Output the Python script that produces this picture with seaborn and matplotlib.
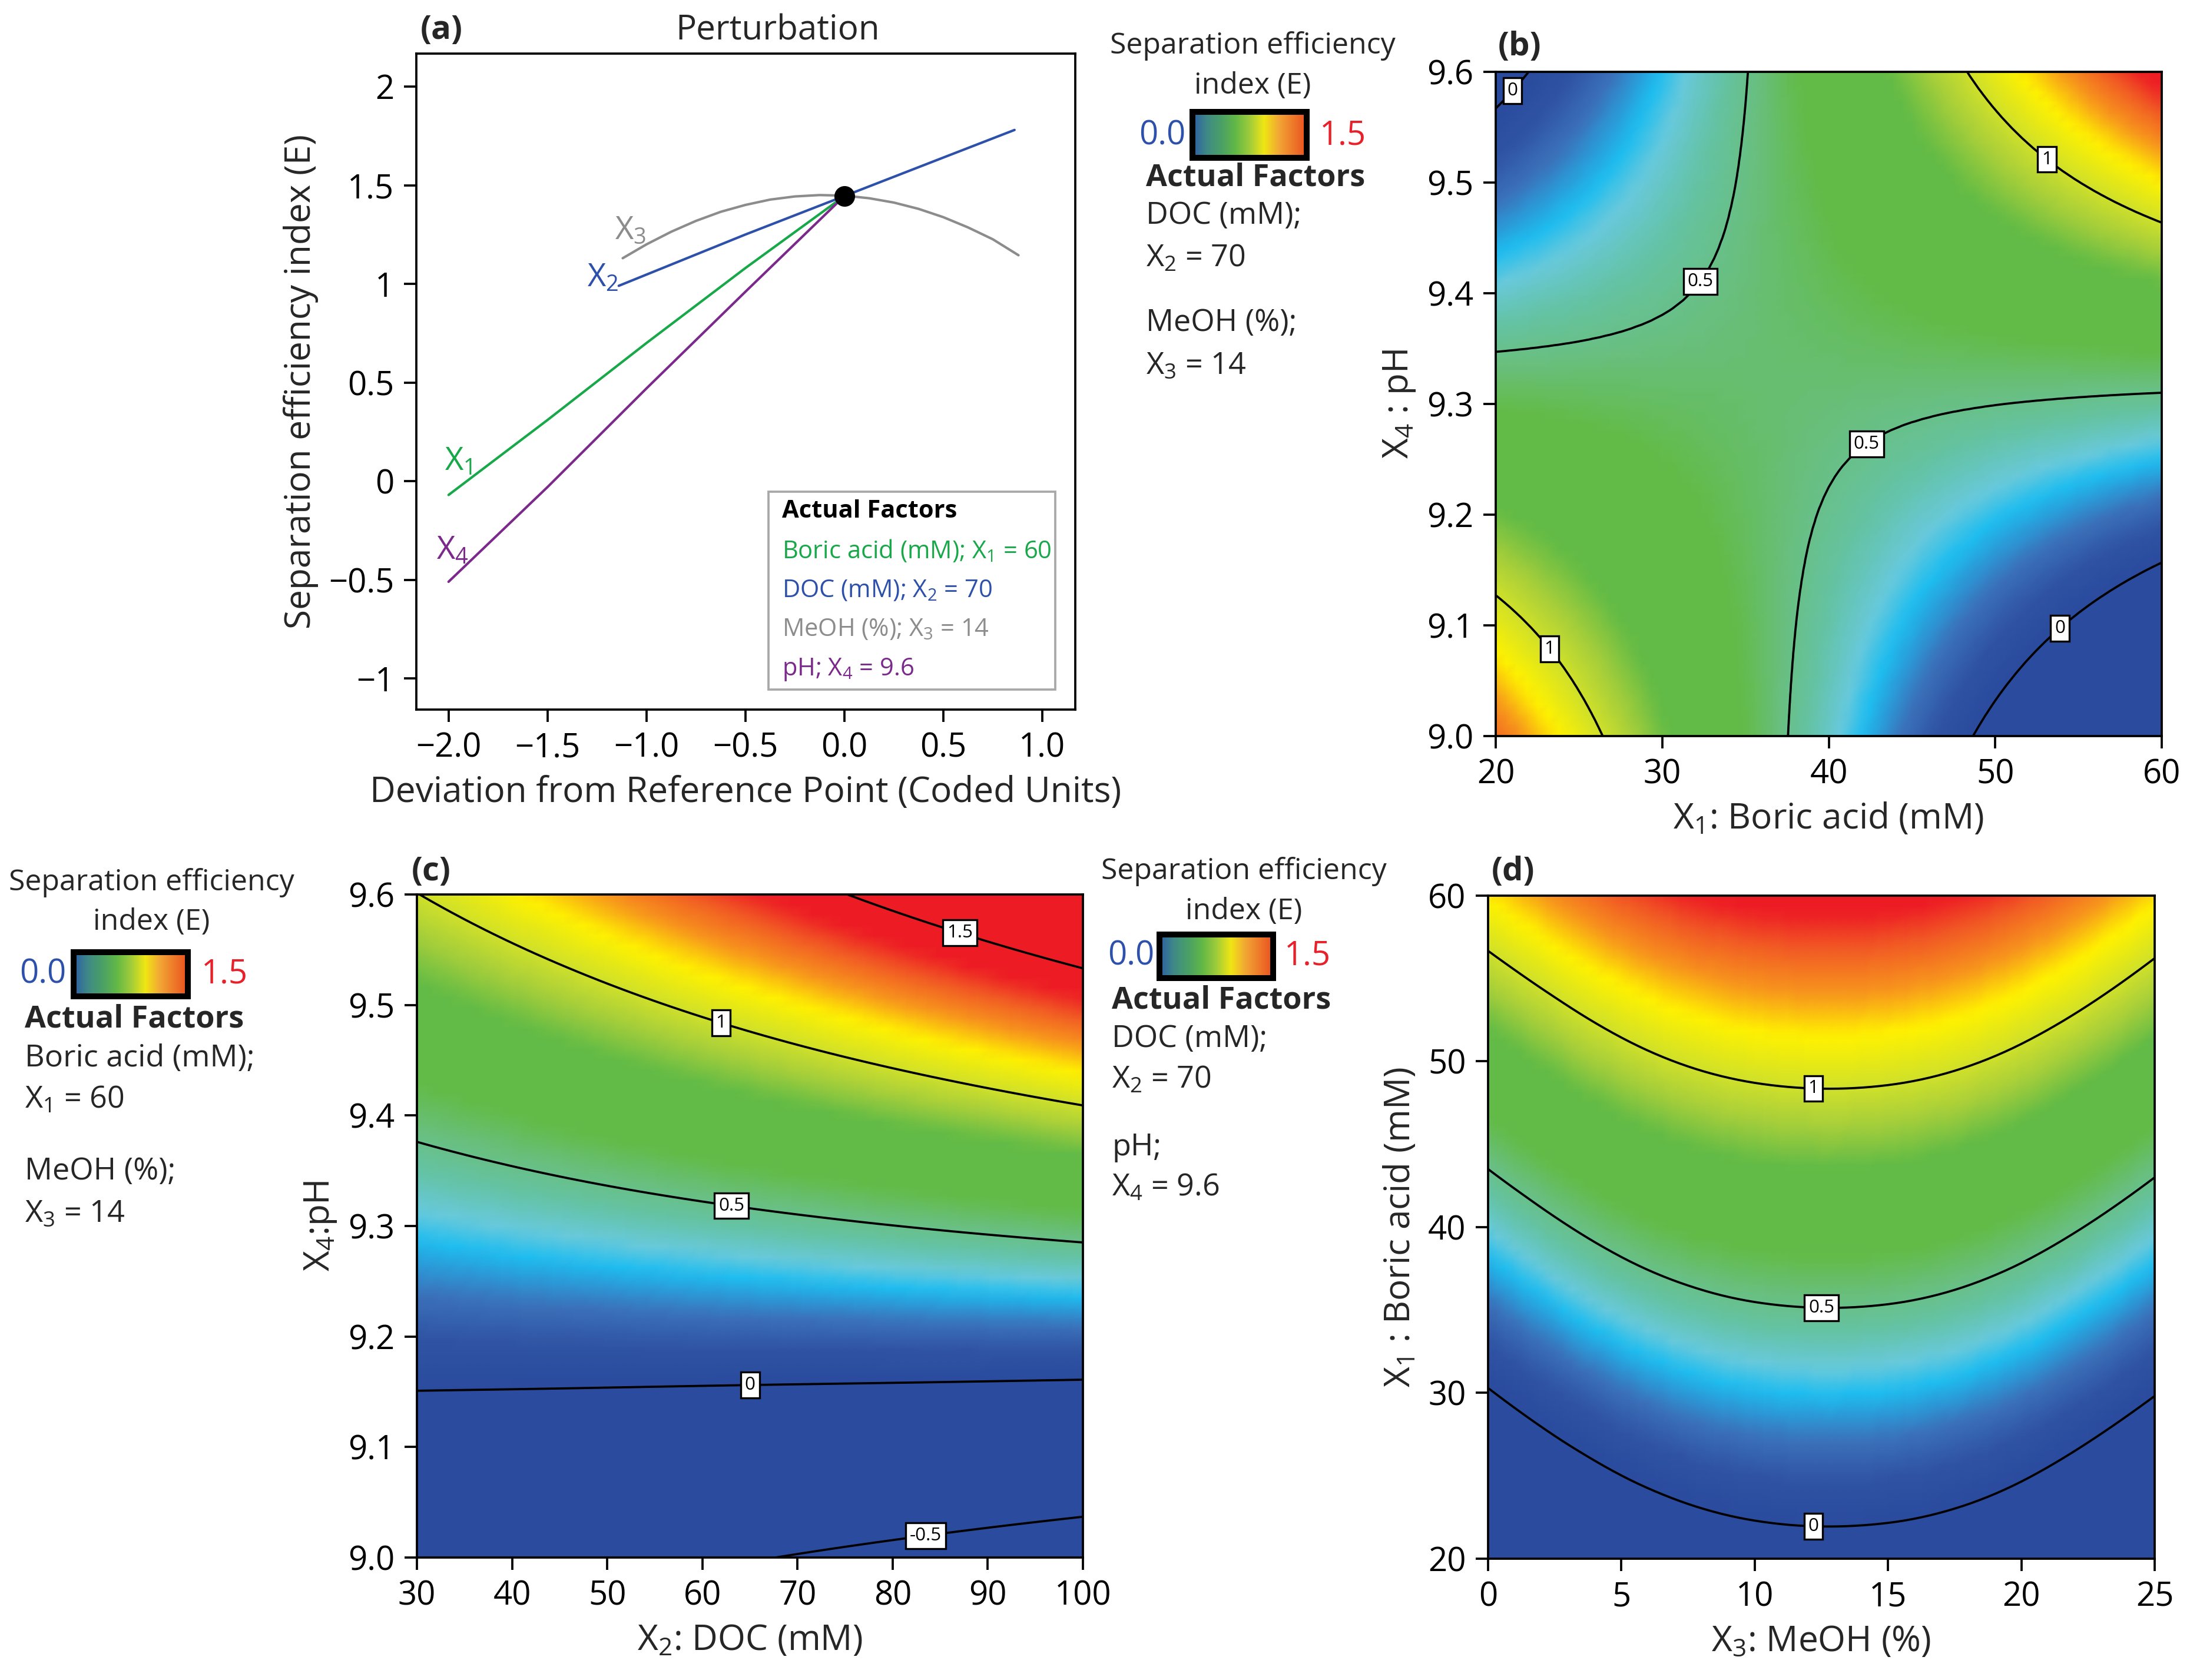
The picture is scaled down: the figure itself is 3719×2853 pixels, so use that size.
import numpy as np
import pandas as pd
import matplotlib
matplotlib.use("Agg")
import matplotlib.pyplot as plt
import matplotlib.tri as mtri
from matplotlib.colors import LinearSegmentedColormap
from matplotlib.patches import Rectangle
import seaborn as sns

# ---------------- data ----------------
# (a) perturbation traces: deviation (coded units) vs E
dev_x1 = [-2.0, -1.5, -1.0, -0.5, 0.0]
e_x1 = [-0.07, 0.31, 0.70, 1.08, 1.445]
dev_x2 = [-1.14, -0.5, 0.0, 0.5, 0.86]
e_x2 = [0.99, 1.25, 1.445, 1.64, 1.78]
dev_x3 = [-1.12, -1.0, -0.875, -0.75, -0.625, -0.5, -0.375, -0.25, -0.125,
          0.0, 0.125, 0.25, 0.375, 0.5, 0.625, 0.75, 0.88]
e_x3 = [1.13, 1.20, 1.264, 1.319, 1.365, 1.40, 1.427, 1.443, 1.45,
        1.447, 1.434, 1.412, 1.38, 1.338, 1.286, 1.226, 1.145]
dev_x4 = [-2.0, -1.5, -1.0, -0.5, 0.0]
e_x4 = [-0.51, -0.03, 0.47, 0.96, 1.445]
ref_dev = [0.0]
ref_e = [1.445]
a_xticks = [-2.0, -1.5, -1.0, -0.5, 0.0, 0.5, 1.0]
a_yticks = [-1.0, -0.5, 0.0, 0.5, 1.0, 1.5, 2.0]

# (b) E over boric acid (cols) x pH (rows), DOC = 70, MeOH = 14
b_boric = [20, 30, 40, 50, 60]
b_ph = [9.0, 9.15, 9.3, 9.45, 9.6]
b_e = [[1.289, 0.839, 0.390, -0.060, -0.510],
       [0.948, 0.706, 0.463, 0.221, -0.022],
       [0.607, 0.572, 0.537, 0.502, 0.467],
       [0.266, 0.438, 0.610, 0.783, 0.955],
       [-0.075, 0.305, 0.684, 1.064, 1.443]]

# (c) E over DOC (cols) x pH (rows), boric acid = 60, MeOH = 14
c_doc = [30, 47.5, 65, 82.5, 100]
c_ph = [9.0, 9.15, 9.3, 9.45, 9.6]
c_e = [[-0.335, -0.410, -0.488, -0.567, -0.649],
       [-0.002, -0.009, -0.019, -0.030, -0.044],
       [0.331, 0.392, 0.450, 0.506, 0.560],
       [0.664, 0.792, 0.919, 1.043, 1.165],
       [0.997, 1.193, 1.388, 1.579, 1.769]]

# (d) E over MeOH (cols) x boric acid (rows), DOC = 70, pH = 9.6
d_meoh = [0, 5, 10, 15, 20, 25]
d_boric = [20, 30, 40, 50, 60]
d_e = [[-0.390, -0.190, -0.087, -0.082, -0.176, -0.372],
       [-0.011, 0.189, 0.292, 0.297, 0.203, 0.007],
       [0.368, 0.568, 0.671, 0.676, 0.582, 0.386],
       [0.746, 0.946, 1.049, 1.054, 0.960, 0.764],
       [1.125, 1.325, 1.428, 1.433, 1.339, 1.143]]

# ---------------- style ----------------
sns.set_theme(style="ticks", rc={"axes.edgecolor": "black", "xtick.color": "black",
                                 "ytick.color": "black", "axes.linewidth": 0.9})
plt.rcParams["font.family"] = ["Open Sans", "DejaVu Sans"]
plt.rcParams["mathtext.default"] = "regular"
plt.rcParams["axes.unicode_minus"] = True
plt.rcParams["contour.negative_linestyle"] = "solid"

factor_colors = {"X1": "#18a84a", "X2": "#2d50aa", "X3": "#8c8c8c", "X4": "#7b2a8c"}

surf_stops = [0.0, 0.10, 0.19, 0.30, 0.36, 0.44, 0.52, 0.62, 0.82, 0.92,
              1.00, 1.12, 1.22, 1.32, 1.40, 1.50]
surf_cols = ["#2a4b9e", "#2f53a2", "#3b70b9", "#1ebdf0", "#68c9dc", "#64c3a6",
             "#69bf80", "#62bb46", "#62bb46", "#a8cf3a", "#cfe02b", "#fff200",
             "#f7941d", "#f15a24", "#ed1c24", "#ed1c24"]
surf_cmap = LinearSegmentedColormap.from_list(
    "sei", list(zip(np.array(surf_stops) / 1.5, surf_cols)))
bar_cmap = LinearSegmentedColormap.from_list(
    "bar", ["#2c5ea6", "#3f8a86", "#4aa066", "#62b846", "#a0cc3a", "#f0e614",
            "#f2a834", "#ee7a2a", "#e94e1f"])

TICK = 13.5
LAB = 14.5
SIDE = 12.5

fig = plt.figure(figsize=(3719 / 300, 2853 / 300), dpi=300)


def style_axes(ax):
    for s in ax.spines.values():
        s.set_visible(True)
        s.set_linewidth(0.9)
        s.set_color("black")
    ax.tick_params(direction="out", length=5, width=0.9, labelsize=TICK,
                   top=False, right=False, pad=4)


def draw_surface(ax, xs, ys, zs, levels, label_pos):
    ni, nj = len(xs), len(ys)
    ii, jj = np.meshgrid(np.arange(ni, dtype=float), np.arange(nj, dtype=float))
    tris = []
    for j in range(nj - 1):
        for i in range(ni - 1):
            k = j * ni + i
            tris.append([k, k + 1, k + ni + 1])
            tris.append([k, k + ni + 1, k + ni])
    tri = mtri.Triangulation(ii.ravel(), jj.ravel(), np.array(tris))
    tri_f, z_f = mtri.UniformTriRefiner(tri).refine_field(
        np.asarray(zs, dtype=float).ravel(), subdiv=4)
    fx = np.interp(tri_f.x, np.arange(ni), xs)
    fy = np.interp(tri_f.y, np.arange(nj), ys)
    tri_xy = mtri.Triangulation(fx, fy, tri_f.triangles)
    ax.tripcolor(tri_xy, z_f, shading="gouraud", cmap=surf_cmap, vmin=0, vmax=1.5,
                 rasterized=True)
    cs = ax.tricontour(tri_xy, z_f, levels=levels, colors="black", linewidths=0.9,
                       linestyles="solid")
    texts = ax.clabel(cs, inline=False, fontsize=7.5, fmt=lambda v: f"{v:g}",
                      manual=label_pos)
    for t in texts:
        t.set_rotation(0)
        t.set_bbox(dict(boxstyle="square,pad=0.22", facecolor="white",
                        edgecolor="black", linewidth=0.8))
        t.set_zorder(5)
    ax.set_xlim(xs[0], xs[-1])
    ax.set_ylim(ys[0], ys[-1])
    style_axes(ax)


def side_legend(cx_title, y_title1, y_title2, bar_rect, y_bar, x_low, x_high,
                x_text, rows):
    fig.text(cx_title, y_title1, "Separation efficiency", ha="center", va="center",
             fontsize=SIDE - 0.5)
    fig.text(cx_title, y_title2, "index (E)", ha="center", va="center",
             fontsize=SIDE - 0.5)
    cax = fig.add_axes(bar_rect)
    cax.imshow(np.linspace(0, 1, 256)[None, :], aspect="auto", cmap=bar_cmap)
    cax.set_xticks([])
    cax.set_yticks([])
    for s in cax.spines.values():
        s.set_linewidth(2.4)
        s.set_color("black")
    fig.text(x_low, y_bar, "0.0", ha="right", va="center", fontsize=13.5,
             color="#2d50aa")
    fig.text(x_high, y_bar, "1.5", ha="left", va="center", fontsize=13.5,
             color="#e8202a")
    for y, txt, bold in rows:
        fig.text(x_text, y, txt, ha="left", va="center", fontsize=SIDE,
                 fontweight="bold" if bold else "normal")


# ---------------- (a) perturbation ----------------
ax_a = fig.add_axes([0.190, 0.5776, 0.301, 0.3905])
pert = pd.concat([
    pd.DataFrame({"dev": dev_x1, "E": e_x1, "factor": "X1"}),
    pd.DataFrame({"dev": dev_x2, "E": e_x2, "factor": "X2"}),
    pd.DataFrame({"dev": dev_x3, "E": e_x3, "factor": "X3"}),
    pd.DataFrame({"dev": dev_x4, "E": e_x4, "factor": "X4"}),
], ignore_index=True)
sns.lineplot(data=pert, x="dev", y="E", hue="factor", palette=factor_colors,
             estimator=None, linewidth=1.0, legend=False, ax=ax_a)
ax_a.scatter(ref_dev, ref_e, s=55, color="black", zorder=5)
ax_a.set_xlim(-2.164, 1.167)
ax_a.set_ylim(-1.158, 2.167)
ax_a.set_xticks(a_xticks)
ax_a.set_xticklabels([f"{t:.1f}".replace("-", "\u2212") for t in a_xticks])
ax_a.set_yticks(a_yticks)
ax_a.set_yticklabels([f"{t:g}".replace("-", "\u2212") for t in a_yticks])
ax_a.set_xlabel("Deviation from Reference Point (Coded Units)", fontsize=LAB)
ax_a.set_ylabel("Separation efficiency index (E)", fontsize=LAB)
style_axes(ax_a)
for name, (lx, ly) in {"X3": (-1.08, 1.27), "X2": (-1.22, 1.03),
                       "X1": (-1.95, 0.10), "X4": (-1.98, -0.35)}.items():
    ax_a.text(lx, ly, f"X$_{name[1]}$", color=factor_colors[name], fontsize=13,
              ha="center", va="center")
ax_a.add_patch(Rectangle((0.535, 0.031), 0.435, 0.301, transform=ax_a.transAxes,
                         facecolor="white", edgecolor="#a8a8a8", linewidth=0.9,
                         zorder=4))
legend_rows = [
    (0.302, "Actual Factors", "black", True),
    (0.2415, "Boric acid (mM); X$_1$ = 60", factor_colors["X1"], False),
    (0.181, "DOC (mM); X$_2$ = 70", factor_colors["X2"], False),
    (0.122, "MeOH (%); X$_3$ = 14", factor_colors["X3"], False),
    (0.061, "pH; X$_4$ = 9.6", factor_colors["X4"], False),
]
for y, txt, col, bold in legend_rows:
    ax_a.text(0.555, y, txt, transform=ax_a.transAxes, color=col, fontsize=10,
              fontweight="bold" if bold else "normal", va="center", zorder=6)
fig.text(0.192, 0.982, "(a)", fontsize=13.5, fontweight="bold", va="center")
fig.text(0.355, 0.9818, "Perturbation", fontsize=14, ha="center", va="center")

# ---------------- (b) ----------------
ax_b = fig.add_axes([0.683, 0.5619, 0.3041, 0.3953])
draw_surface(ax_b, b_boric, b_ph, b_e, [0, 0.5, 1],
             [(20.7, 9.587), (53.4, 9.527), (32.0, 9.414), (41.9, 9.272),
              (23.5, 9.082), (53.5, 9.104)])
ax_b.set_xticks([20, 30, 40, 50, 60])
ax_b.set_yticks([9.0, 9.1, 9.2, 9.3, 9.4, 9.5, 9.6])
ax_b.yaxis.set_major_formatter(matplotlib.ticker.FormatStrFormatter("%.1f"))
ax_b.set_xlabel("X$_1$: Boric acid (mM)", fontsize=LAB)
ax_b.set_ylabel("X$_4$ : pH", fontsize=LAB)
fig.text(0.684, 0.972, "(b)", fontsize=13.5, fontweight="bold", va="center")
side_legend(0.572, 0.9727, 0.9488, [0.5445, 0.9061, 0.0522, 0.0273], 0.919,
            0.5413, 0.6026, 0.5233,
            [(0.8941, "Actual Factors", True), (0.8717, "DOC (mM);", False),
             (0.8461, "X$_2$ = 70", False), (0.8076, "MeOH (%);", False),
             (0.7823, "X$_3$ = 14", False)])

# ---------------- (c) ----------------
ax_c = fig.add_axes([0.1904, 0.0729, 0.3041, 0.3947])
draw_surface(ax_c, c_doc, c_ph, c_e, [-0.5, 0, 0.5, 1, 1.5],
             [(87.3, 9.572), (62.3, 9.493), (63.2, 9.328), (65.0, 9.16),
              (83.4, 9.025)])
ax_c.set_xticks([30, 40, 50, 60, 70, 80, 90, 100])
ax_c.set_yticks([9.0, 9.1, 9.2, 9.3, 9.4, 9.5, 9.6])
ax_c.yaxis.set_major_formatter(matplotlib.ticker.FormatStrFormatter("%.1f"))
ax_c.set_xlabel("X$_2$: DOC (mM)", fontsize=LAB)
ax_c.set_ylabel("X$_4$:pH", fontsize=LAB)
fig.text(0.188, 0.4812, "(c)", fontsize=13.5, fontweight="bold", va="center")
side_legend(0.0691, 0.4746, 0.4511, [0.0336, 0.4069, 0.0522, 0.0263], 0.4199,
            0.0301, 0.092, 0.0113,
            [(0.3933, "Actual Factors", True), (0.3698, "Boric acid (mM);", False),
             (0.3452, "X$_1$ = 60", False), (0.3025, "MeOH (%);", False),
             (0.2773, "X$_3$ = 14", False)])

# ---------------- (d) ----------------
ax_d = fig.add_axes([0.6795, 0.0722, 0.3044, 0.3947])
draw_surface(ax_d, d_meoh, d_boric, d_e, [0, 0.5, 1],
             [(12.2, 48.5), (12.5, 35.3), (12.2, 22.1)])
ax_d.set_xticks([0, 5, 10, 15, 20, 25])
ax_d.set_yticks([20, 30, 40, 50, 60])
ax_d.set_xlabel("X$_3$: MeOH (%)", fontsize=LAB)
ax_d.set_ylabel("X$_1$ : Boric acid (mM)", fontsize=LAB)
fig.text(0.681, 0.4812, "(d)", fontsize=13.5, fontweight="bold", va="center")
side_legend(0.5679, 0.4812, 0.4574, [0.5294, 0.4178, 0.0519, 0.0259], 0.4308,
            0.527, 0.5864, 0.5077,
            [(0.4045, "Actual Factors", True), (0.3817, "DOC (mM);", False),
             (0.3572, "X$_2$ = 70", False), (0.3169, "pH;", False),
             (0.2930, "X$_4$ = 9.6", False)])

fig.savefig("out.png", dpi=300)
